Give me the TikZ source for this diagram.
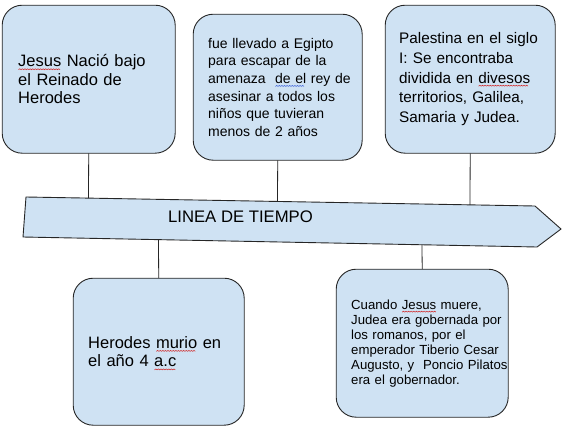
\documentclass[tikz,border=0pt]{standalone}
\usepackage{fontspec}
\setmainfont{Liberation Sans}
\usetikzlibrary{calc}

\definecolor{boxblue}{HTML}{CFE2F3}
\definecolor{edgegray}{HTML}{262626}
\definecolor{spellred}{HTML}{D22B2B}
\definecolor{spellblue}{HTML}{3A5FD8}

% spell-check squiggles
\newsavebox{\wavebox}
\newcommand{\squiggle}[2]{\sbox{\wavebox}{#2}%
  \pgfmathtruncatemacro{\nwav}{max(1,\wd\wavebox/2.6)}%
  \leavevmode\rlap{\raisebox{-3pt}[0pt][0pt]{\tikz[x=1pt, y=1pt, baseline=0pt]{%
    \draw[draw=#1, fill=none, line width=0.55pt, sharp corners] (0,0)
      \foreach \k in {1,...,\nwav} { -- ++(1.3,0.9) -- ++(1.3,-0.9) };}}}%
  \usebox{\wavebox}}
\newcommand{\redwave}[1]{\squiggle{spellred}{#1}}
\newcommand{\bluewave}[1]{\squiggle{spellblue}{#1}}

\begin{document}
\begin{tikzpicture}[x=1pt, y=-1pt, line width=0.9pt,
  card/.style={draw=edgegray, fill=boxblue, rounded corners=20pt,
    anchor=north west, align=left, inner ysep=0pt},
  link/.style={draw=edgegray, line width=0.8pt}]

\useasboundingbox (0,0) rectangle (563,426);

% ============================
% Upper cards
% ============================
\node[card, inner xsep=16pt, text width=141pt, minimum width=173pt, minimum height=148pt,
  font=\fontsize{16.5}{18.5}\selectfont] (b1) at (2,5)
  {\redwave{Jesus} Nació bajo\\el Reinado de\\Herodes};

\node[card, inner xsep=15pt, text width=139pt, minimum width=169pt, minimum height=146pt,
  font=\fontsize{14}{17.6}\selectfont] (b2) at (193,14)
  {fue llevado a Egipto\\para escapar de la\\\mbox{amenaza\ \ \bluewave{de el} rey de}\\asesinar a todos los\\niños que tuvieran\\menos de 2 años};

\node[card, inner xsep=14pt, text width=142pt, minimum width=170pt, minimum height=148pt,
  font=\fontsize{15.3}{19.7}\selectfont] (b3) at (385,5)
  {Palestina en el siglo\\I: Se encontraba\\dividida en \redwave{divesos}\\territorios, Galilea,\\Samaria y Judea.};

% ============================
% Lower cards
% ============================
\node[card, inner xsep=15pt, text width=141pt, minimum width=171pt, minimum height=147pt,
  font=\fontsize{16.5}{18.5}\selectfont] (b4) at (73,278)
  {Herodes \redwave{murio} en\\el año 4 \redwave{a.c}};

\node[card, inner xsep=15pt, text width=142pt, minimum width=172pt, minimum height=148pt,
  font=\fontsize{13.2}{15}\selectfont] (b5) at (336,269)
  {\mbox{Cuando \redwave{Jesus} muere,}\\\mbox{Judea era gobernada por}\\\mbox{los romanos, por el}\\\mbox{emperador Tiberio Cesar}\\\mbox{Augusto, y\ \ Poncio Pilatos}\\\mbox{era el gobernador.}};

% ============================
% Timeline arrow
% ============================
\coordinate (atl)  at (26,197);
\coordinate (atr)  at (535,206);
\coordinate (atip) at (561,229);
\coordinate (abr)  at (537,247);
\coordinate (abl)  at (23,237);

\draw[draw=edgegray, fill=boxblue] (atl) -- (atr) -- (atip) -- (abr) -- (abl) -- cycle;
\node[font=\fontsize{16.7}{18}\selectfont] (title) at (240.5,216.5) {LINEA DE TIEMPO};

% ============================
% Connectors
% ============================
\coordinate (t1) at (88.5,198.1);
\coordinate (t2) at (277.5,201.4);
\coordinate (t3) at (470,204.9);
\coordinate (t4) at (158.5,239.6);
\coordinate (t5) at (422,244.8);

\foreach \b/\t in {b1/t1,b2/t2,b3/t3}{
  \draw[link] (\b.south) -- (\t);
}
\foreach \b/\t in {b4/t4,b5/t5}{
  \draw[link] (\b.north) -- (\t);
}

\end{tikzpicture}
\end{document}
